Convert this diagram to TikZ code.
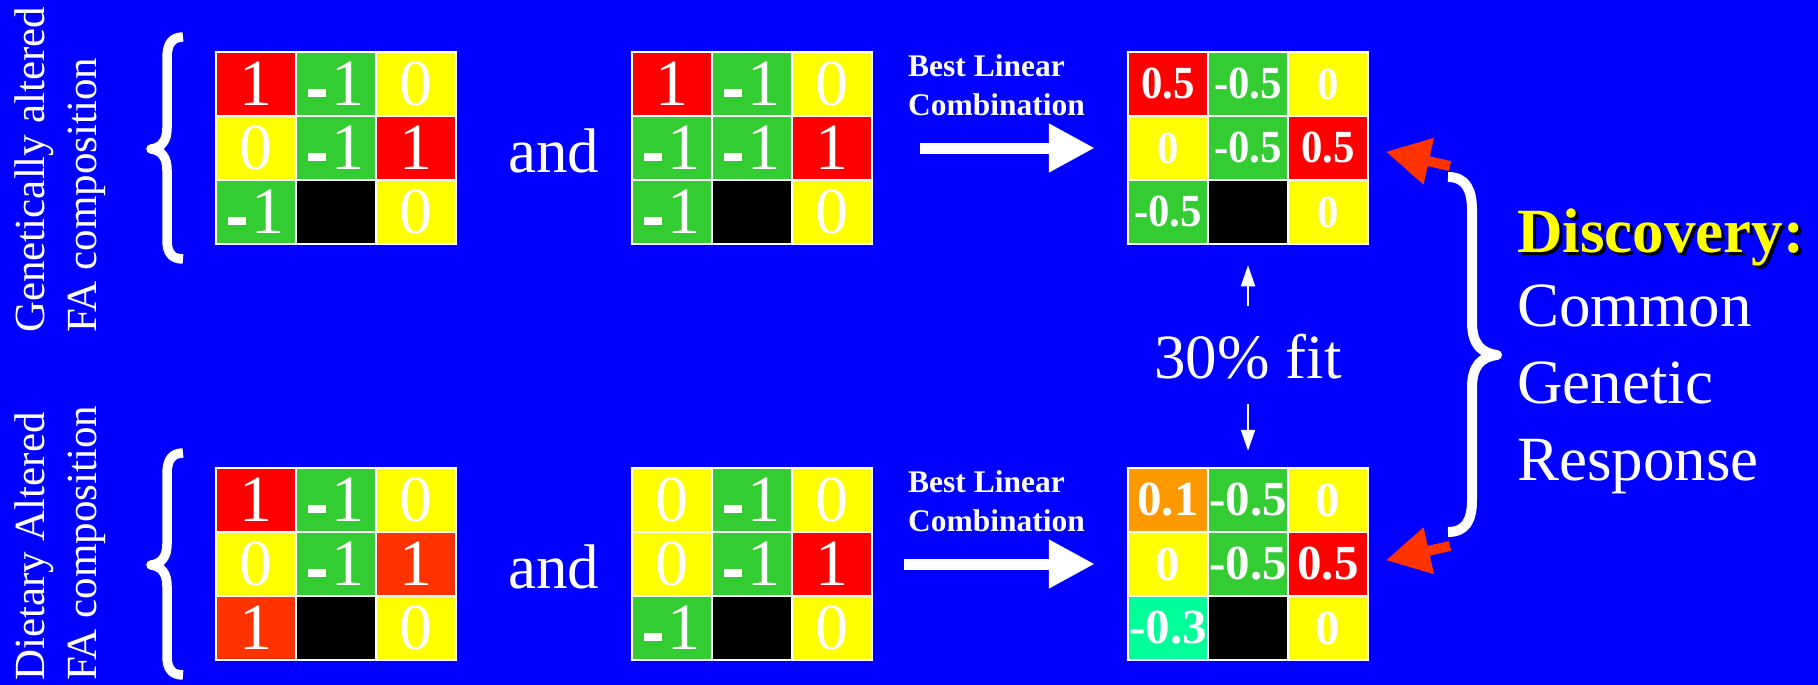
\documentclass[tikz,border=0pt]{standalone}
\usepackage{fontspec}
\setmainfont{Liberation Serif}
\usetikzlibrary{arrows.meta}
\definecolor{bgblue}{HTML}{0000FF}
\definecolor{cred}{HTML}{FF0000}
\definecolor{cgreen}{HTML}{33CC33}
\definecolor{cyellow}{HTML}{FFFF00}
\definecolor{corr}{HTML}{FF3300}
\definecolor{corange}{HTML}{FF9900}
\definecolor{cteal}{HTML}{00FF99}
\newcommand\mneg{\rule[0.14em]{0.27em}{0.12em}\hspace{0.08em}}
\newcommand\myNum{\fontsize{66}{70}\selectfont}
\newcommand\myRes{\fontsize{46}{50}\selectfont\bfseries}
\newcommand\myResB{\fontsize{49}{52}\selectfont\bfseries}
\newcommand\plainbox[1]{#1}
\newcommand\narrowbox[1]{\scalebox{0.93}[1]{#1}}
\newcommand\drawmat[6]{\foreach \r/\c/\col/\txt in {#5} {\node[cell,fill=\col,font=#4] (#1-\r\c) at ({#2+40+80*(\c-1)},{#3+32+64*(\r-1)}) {#6{\txt}};}}
\tikzset{
  cell/.style={draw=white, line width=2.5pt, minimum width=80pt, minimum height=64pt, inner sep=0pt, text=white},
  sidetext/.style={rotate=90, anchor=north west, align=left, inner sep=0pt, text=white, font=\fontsize{43}{52}\selectfont},
  bigtext/.style={inner sep=0pt, text=white, font=\fontsize{63}{77}\selectfont},
  blctext/.style={inner sep=0pt, text=white, anchor=north west, align=left, font=\fontsize{31.5}{39}\selectfont\bfseries},
  bigarrow/.style={white, line width=11pt, -{Triangle[width=46pt,length=46pt]}},
  smallarrow/.style={white, line width=2pt, -{Triangle[width=14pt,length=21pt]}},
  orarrow/.style={corr, line width=10pt, -{Triangle[width=45pt,length=44pt]}},
  brace/.style={white, line width=9.5pt, line join=round, line cap=butt},
}
\begin{document}
\begin{tikzpicture}[x=1pt,y=-1pt]
\useasboundingbox (0,0) rectangle (1818,685);
\fill[bgblue] (0,0) rectangle (1818,685);

% side labels
\node[sidetext] (gen) at (14,333) {Genetically altered\\FA composition};
\node[sidetext] (diet) at (14,681) {Dietary Altered\\FA composition};

% left braces
\draw[brace] (183,37) .. controls (172,37) and (167,44) .. (167,58) -- (167,128) .. controls (167,141) and (161,148) .. (151,149) .. controls (161,150) and (167,157) .. (167,170) -- (167,240) .. controls (167,253) and (172,259) .. (183,259);
\draw[brace] (183,453) .. controls (172,453) and (167,460) .. (167,474) -- (167,544) .. controls (167,557) and (161,564) .. (151,565) .. controls (161,566) and (167,573) .. (167,586) -- (167,656) .. controls (167,669) and (172,675) .. (183,675);

% matrices
\drawmat{t1}{216}{52}{\myNum}{1/1/cred/1, 1/2/cgreen/\mneg1, 1/3/cyellow/0, 2/1/cyellow/0, 2/2/cgreen/\mneg1, 2/3/cred/1, 3/1/cgreen/\mneg1, 3/2/black/{}, 3/3/cyellow/0}{\plainbox}
\drawmat{t2}{632}{52}{\myNum}{1/1/cred/1, 1/2/cgreen/\mneg1, 1/3/cyellow/0, 2/1/cgreen/\mneg1, 2/2/cgreen/\mneg1, 2/3/cred/1, 3/1/cgreen/\mneg1, 3/2/black/{}, 3/3/cyellow/0}{\plainbox}
\drawmat{t3}{1128}{52}{\myRes}{1/1/cred/0.5, 1/2/cgreen/-0.5, 1/3/cyellow/0, 2/1/cyellow/0, 2/2/cgreen/-0.5, 2/3/cred/0.5, 3/1/cgreen/-0.5, 3/2/black/{}, 3/3/cyellow/0}{\narrowbox}
\drawmat{b1}{216}{468}{\myNum}{1/1/cred/1, 1/2/cgreen/\mneg1, 1/3/cyellow/0, 2/1/cyellow/0, 2/2/cgreen/\mneg1, 2/3/corr/1, 3/1/corr/1, 3/2/black/{}, 3/3/cyellow/0}{\plainbox}
\drawmat{b2}{632}{468}{\myNum}{1/1/cyellow/0, 1/2/cgreen/\mneg1, 1/3/cyellow/0, 2/1/cyellow/0, 2/2/cgreen/\mneg1, 2/3/cred/1, 3/1/cgreen/\mneg1, 3/2/black/{}, 3/3/cyellow/0}{\plainbox}
\drawmat{b3}{1128}{468}{\myResB}{1/1/corange/0.1, 1/2/cgreen/-0.5, 1/3/cyellow/0, 2/1/cyellow/0, 2/2/cgreen/-0.5, 2/3/cred/0.5, 3/1/cteal/-0.3, 3/2/black/{}, 3/3/cyellow/0}{\plainbox}

% "and"
\node[bigtext, anchor=base] (and1) at (554,172) {and};
\node[bigtext, anchor=base] (and2) at (554,588) {and};

% Best Linear Combination
\node[blctext] (blc1) at (908,54) {Best Linear\\Combination};
\node[blctext] (blc2) at (908,470) {Best Linear\\Combination};
\coordinate (ba1) at (920,148);
\coordinate (ba2) at (904,564);
\draw[bigarrow, shorten >=32pt] (ba1) -- (t3-21.west);
\draw[bigarrow, shorten >=32pt] (ba2) -- (b3-21.west);

% 30% fit
\node[bigtext, anchor=base] (fit) at (1248,378) {30\% fit};
\draw[smallarrow, shorten <=27pt, shorten >=20pt] (fit.north) -- (t3-32.south);
\draw[smallarrow, shorten <=25pt, shorten >=16pt] (fit.south) -- (b3-12.north);

% right brace
\draw[brace, line width=10pt] (1448,177) .. controls (1466,177) and (1472,190) .. (1472,210) -- (1472,322) .. controls (1472,344) and (1481,353) .. (1497,355) .. controls (1481,357) and (1472,366) .. (1472,388) -- (1472,500) .. controls (1472,520) and (1466,532) .. (1448,532);

% orange arrows
\coordinate (oa1) at (1450,166);
\coordinate (oa2) at (1450,546);
\draw[orarrow, shorten >=17pt] (oa1) -- (t3-23.east);
\draw[orarrow, shorten >=17pt] (oa2) -- (b3-23.east);

% Discovery text
\node[inner sep=0pt, anchor=base west, font=\fontsize{63}{77}\selectfont\bfseries] (disc) at (1517,252) {\rlap{\hspace{3pt}\raisebox{-3pt}{\color{black}Discovery:}}\color{cyellow}Discovery:};
\node[bigtext, anchor=north west, align=left] (cgr) at (1517,285) {Common\\Genetic\\Response};
\end{tikzpicture}
\end{document}
